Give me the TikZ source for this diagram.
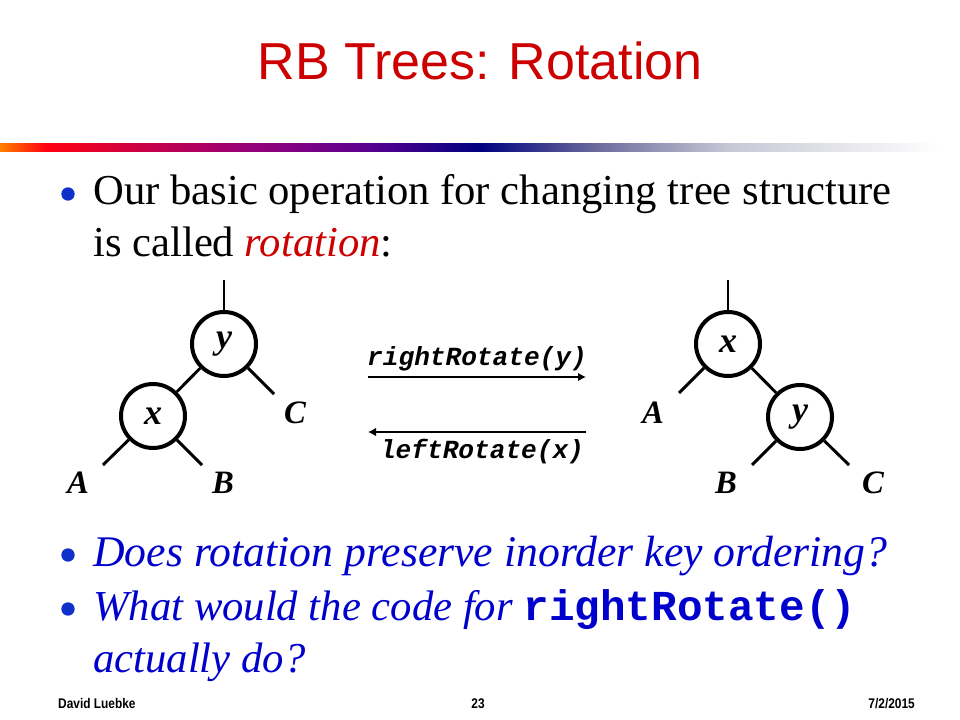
\documentclass[tikz,border=0pt]{standalone}
\usepackage{fontspec}
\setmainfont{Liberation Serif}
\setmonofont{Liberation Mono}
\newfontfamily\hdfont{Liberation Sans}
\usetikzlibrary{arrows.meta}
\definecolor{titlered}{HTML}{CC0000}
\definecolor{qblue}{HTML}{0000CC}
\definecolor{bulblue}{HTML}{1030CC}
\definecolor{gOrange}{HTML}{FF8000}
\definecolor{gRed}{HTML}{FF0010}
\definecolor{gCrim}{HTML}{C80048}
\definecolor{gMag}{HTML}{960078}
\definecolor{gPurp}{HTML}{5C0090}
\definecolor{gNavy}{HTML}{000080}
\definecolor{gSlate}{HTML}{6A6A9C}
\definecolor{gLight}{HTML}{C8C8D6}
\pgfdeclarehorizontalshading{rulebar}{100bp}{%
  color(0bp)=(gOrange); color(25bp)=(gOrange); color(27.4bp)=(gRed);
  color(32.5bp)=(gCrim); color(38bp)=(gMag); color(44bp)=(gPurp);
  color(50bp)=(gNavy); color(56bp)=(gSlate); color(63bp)=(gLight);
  color(74bp)=(white); color(100bp)=(white)}
\begin{document}
\begin{tikzpicture}[x=0.75pt,y=-0.75pt,
  tnode/.style={circle, draw=black, line width=3pt, minimum size=48pt, inner sep=0pt,
    font=\fontsize{27}{27}\selectfont\bfseries\itshape},
  tedge/.style={line width=2.2pt},
  lbl/.style={inner sep=0pt, font=\fontsize{24.5}{25}\selectfont\bfseries\itshape},
  bodytxt/.style={anchor=base west, inner sep=0pt, font=\fontsize{32}{38}\selectfont},
  qtxt/.style={anchor=base west, inner sep=0pt, text=qblue, font=\fontsize{32.8}{38}\selectfont\itshape},
  bul/.style={circle, fill=bulblue, inner sep=0pt, minimum size=10pt},
  rot/.style={line width=2.2pt, -{Latex[length=6pt,width=6.5pt]}},
  rotlbl/.style={anchor=base, inner sep=0pt, font=\fontsize{19.6}{20}\selectfont\ttfamily\bfseries\itshape},
  foot/.style={anchor=base, inner sep=0pt, font=\hdfont\bfseries\fontsize{10.5}{12}\selectfont, xscale=0.85}
]
\useasboundingbox (0,0) rectangle (960,720);
\fill[white] (0,0) rectangle (960,720);

% title and rule
\node[anchor=base, inner sep=0pt, text=titlered, font=\hdfont\fontsize{39}{44}\selectfont] (title) at (480,80) {RB Trees: Rotation};
\shade[shading=rulebar] (0,144) rectangle (960,152);

% bullets
\node[bul] (b1) at (68,194) {};
\node[bodytxt] (l1) at (93,205) {Our basic operation for changing tree structure};
\node[bodytxt] (l2) at (93,257) {is called \textcolor{titlered}{\itshape rotation}:};

\node[bul] (b3) at (68,555) {};
\node[qtxt] (l3) at (93,566) {Does rotation preserve inorder key ordering?};
\node[bul] (b4) at (68,609) {};
\node[bodytxt, text=qblue, font=\fontsize{32}{38}\selectfont\itshape] (l4) at (93,620) {What would the code for {\upshape\ttfamily\bfseries rightRotate()}};
\node[bodytxt, text=qblue, font=\fontsize{32}{38}\selectfont\itshape] (l5) at (93,672) {actually do?};

% left tree
\node[tnode] (ly) at (224,344) {y};
\node[tnode] (lx) at (153,416) {x};
\coordinate (lstem) at (224,280);
\coordinate (lCe) at (274,394);
\coordinate (lAe) at (103,465);
\coordinate (lBe) at (202,465);
\draw[tedge] (lstem) -- (ly);
\draw[tedge] (ly) -- (lx);
\draw[tedge] (ly) -- (lCe);
\draw[tedge] (lx) -- (lAe);
\draw[tedge] (lx) -- (lBe);
\node[lbl] (lC) at (295,413) {C};
\node[lbl] (lA) at (78,483) {A};
\node[lbl] (lB) at (223,483) {B};

% right tree
\node[tnode] (rx) at (728,344) {x};
\node[tnode] (ry) at (800,417) {y};
\coordinate (rstem) at (728,280);
\coordinate (rAe) at (679,393);
\coordinate (rBe) at (752,465);
\coordinate (rCe) at (849,465);
\draw[tedge] (rstem) -- (rx);
\draw[tedge] (rx) -- (ry);
\draw[tedge] (rx) -- (rAe);
\draw[tedge] (ry) -- (rBe);
\draw[tedge] (ry) -- (rCe);
\node[lbl] (rA) at (653,413) {A};
\node[lbl] (rB) at (726,483) {B};
\node[lbl] (rC) at (873,483) {C};

% rotation arrows
\coordinate (a1s) at (368,377);
\coordinate (a1e) at (586,377);
\coordinate (a2s) at (586,432);
\coordinate (a2e) at (368,432);
\draw[rot] (a1s) -- (a1e);
\draw[rot] (a2s) -- (a2e);
\node[rotlbl] (rr) at (477,365) {rightRotate(y)};
\node[rotlbl] (lr) at (482,458) {leftRotate(x)};

% footer
\node[foot, anchor=base west] (f1) at (58,708) {David Luebke};
\node[foot] (f2) at (478,708) {23};
\node[foot, anchor=base east] (f3) at (915,708) {7/2/2015};
\end{tikzpicture}
\end{document}
